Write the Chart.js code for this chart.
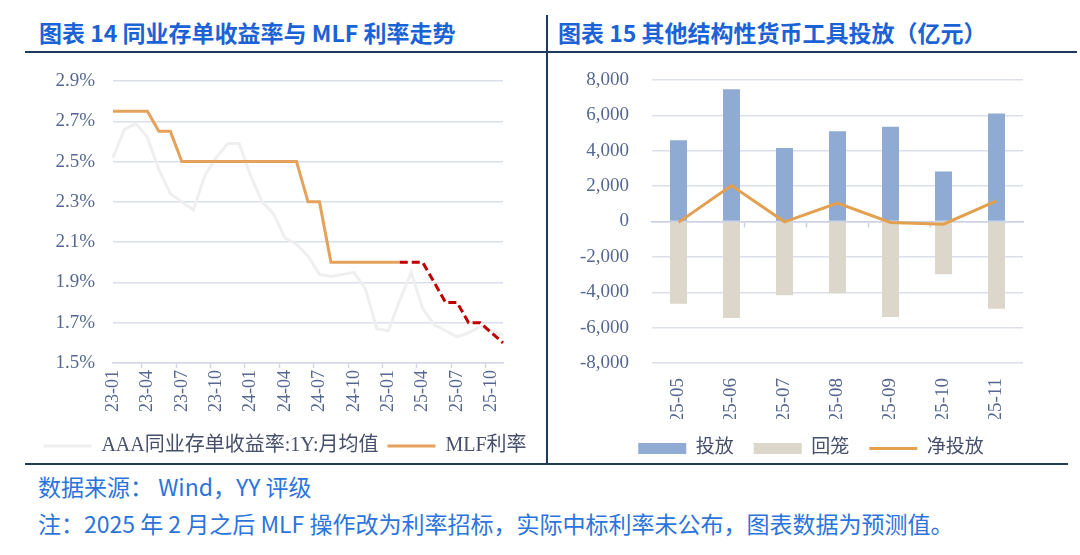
<!DOCTYPE html>
<html>
<head>
<meta charset="utf-8">
<script src="https://cdn.jsdelivr.net/npm/chart.js@4.4.0/dist/chart.umd.min.js"></script>
<style>
  body { margin: 0; width: 1080px; height: 555px; background: #fff; position: relative; overflow: hidden; }
  .title { position: absolute; top: 16px; font: bold 23px "Noto Sans CJK SC", sans-serif; line-height: 1.4; color: #1a62d6; white-space: nowrap; }
  .note { position: absolute; left: 38px; font: 23px "Noto Sans CJK SC", sans-serif; line-height: 1.4; color: #2c74dc; white-space: nowrap; }
  .rule { position: absolute; background: #1f3b5c; }
  canvas { position: absolute; }
</style>
</head>
<body>

<div class="title" style="left:39px">图表 14 同业存单收益率与 MLF 利率走势</div>
<div class="title" style="left:558px">图表 15 其他结构性货币工具投放（亿元）</div>
<div class="rule" style="left:25px; top:51px; width:1052px; height:2px"></div>
<div class="rule" style="left:546px; top:15px; width:1.5px; height:450px"></div>
<div class="rule" style="left:25px; top:463px; width:1043px; height:1.5px"></div>

<canvas id="rateChart" width="520" height="404" style="left:25px; top:62px"></canvas>
<canvas id="toolChart" width="510" height="406" style="left:556px; top:62px"></canvas>

<div class="note" style="top:470px">数据来源： Wind，YY 评级</div>
<div class="note" style="top:507px">注：2025 年 2 月之后 MLF 操作改为利率招标，实际中标利率未公布，图表数据为预测值。</div>

<script type="text/JavaScript">

//------------------------------------------------------------------------------------------
// Data
//------------------------------------------------------------------------------------------

// chart 14: months 23-01 .. 25-11
var months = ["23-01","23-02","23-03","23-04","23-05","23-06","23-07","23-08","23-09","23-10","23-11","23-12",
              "24-01","24-02","24-03","24-04","24-05","24-06","24-07","24-08","24-09","24-10","24-11","24-12",
              "25-01","25-02","25-03","25-04","25-05","25-06","25-07","25-08","25-09","25-10","25-11"];

// AAA NCD 1Y monthly average (%)
var ncdYield = [2.52, 2.66, 2.69, 2.62, 2.46, 2.34, 2.30, 2.26, 2.43, 2.52, 2.59, 2.59,
                2.43, 2.30, 2.24, 2.12, 2.09, 2.03, 1.94, 1.93, 1.94, 1.95, 1.87, 1.67,
                1.66, 1.81, 1.95, 1.77, 1.69, 1.66, 1.63, 1.65, 1.68, 1.66, 1.64];

// MLF rate, published part (%)
var mlfRate = [2.75, 2.75, 2.75, 2.75, 2.65, 2.65, 2.50, 2.50, 2.50, 2.50, 2.50, 2.50,
               2.50, 2.50, 2.50, 2.50, 2.50, 2.30, 2.30, 2.00, 2.00, 2.00, 2.00, 2.00,
               2.00, 2.00, null, null, null, null, null, null, null, null, null];

// MLF rate, forecast part (%)
var mlfForecast = [null, null, null, null, null, null, null, null, null, null, null, null,
                   null, null, null, null, null, null, null, null, null, null, null, null,
                   null, 2.00, 2.00, 2.00, 1.90, 1.80, 1.80, 1.70, 1.70, 1.65, 1.60];

var rateTicks = [1.5, 1.7, 1.9, 2.1, 2.3, 2.5, 2.7, 2.9];

// chart 15: structural tools (100 million yuan)
var toolMonths = ["25-05","25-06","25-07","25-08","25-09","25-10","25-11"];
var injected   = [4600, 7480, 4150, 5100, 5350, 2830, 6100];
var withdrawn  = [-4650, -5450, -4170, -4060, -5400, -2980, -4930];
var netInject  = [-50, 2030, -20, 1040, -50, -150, 1170];

//------------------------------------------------------------------------------------------
// Styles
//------------------------------------------------------------------------------------------

var TICK_COLOR = "#56688f";
var LEGEND_COLOR = "#46506c";
var GRID_COLOR = "#dbdfec";
var SERIF = "'Liberation Serif', 'Noto Sans CJK SC', serif";

// empty box on the right side, keeps the plot narrow while the legend uses the full width
function spacerAxis(w) {
    return {
        position: 'right',
        display: true,
        afterFit: function(scale) { scale.width = w; },
        border: { display: false },
        grid: { display: false },
        ticks: { display: false }
    };
}

//------------------------------------------------------------------------------------------
// Chart 14
//------------------------------------------------------------------------------------------

var ctx1 = document.getElementById("rateChart").getContext('2d');
var rateChart = new Chart(ctx1, {
    type: 'line',
    data: {
        labels: months,
        datasets: [
            {
                label: "AAA同业存单收益率:1Y:月均值",
                data: ncdYield,
                borderColor: "#efefef",
                backgroundColor: "#efefef",
                borderWidth: 3,
                pointRadius: 0,
                pointBorderWidth: 3,
                pointStyle: 'line',
                order: 2
            },
            {
                label: "MLF利率",
                data: mlfRate,
                borderColor: "#e4a25c",
                backgroundColor: "#e4a25c",
                borderWidth: 3,
                pointRadius: 0,
                pointBorderWidth: 3,
                pointStyle: 'line',
                order: 1
            },
            {
                label: "forecast",
                data: mlfForecast,
                borderColor: "#c00000",
                borderWidth: 3,
                borderDash: [8, 4],
                pointRadius: 0,
                order: 0
            }
        ]
    },
    options: {
        responsive: false,
        animation: false,
        layout: { padding: { top: 19, right: 0, left: 0, bottom: 0 } },
        plugins: {
            tooltip: { enabled: false },
            legend: {
                position: 'bottom',
                labels: {
                    filter: function(item) { return item.datasetIndex < 2; },
                    sort: function(a, b) { return a.datasetIndex - b.datasetIndex; },
                    usePointStyle: true,
                    pointStyleWidth: 48,
                    boxHeight: 11,
                    padding: 9,
                    color: LEGEND_COLOR,
                    font: { family: SERIF, size: 20 }
                }
            }
        },
        scales: {
            x: {
                afterFit: function(scale) { scale.height = 64; },
                border: { color: "#d3d8e7", width: 1.5 },
                grid: {
                    offset: true,
                    drawOnChartArea: false,
                    tickLength: 5,
                    tickWidth: 1.5,
                    tickColor: function(c) { return c.index % 3 === 0 ? "#d3d8e7" : "rgba(0,0,0,0)"; }
                },
                ticks: {
                    autoSkip: false,
                    maxRotation: 90,
                    minRotation: 90,
                    padding: 2,
                    color: TICK_COLOR,
                    font: { family: SERIF, size: 18 },
                    callback: function(v, i) { return i % 3 === 0 ? months[i] : ''; }
                }
            },
            y: {
                min: rateTicks[0],
                max: rateTicks[rateTicks.length - 1],
                afterFit: function(scale) { scale.width = 88; },
                afterBuildTicks: function(scale) {
                    scale.ticks = rateTicks.map(function(v) { return { value: v }; });
                },
                border: { display: false },
                grid: { color: GRID_COLOR, lineWidth: 1.5, drawTicks: true, tickLength: 18, tickColor: "rgba(0,0,0,0)" },
                ticks: {
                    padding: 0,
                    color: TICK_COLOR,
                    font: { family: SERIF, size: 19 },
                    callback: function(v) { return v.toFixed(1) + '%'; }
                }
            },
            spacer: spacerAxis(42)
        }
    }
}); //Chart()

//------------------------------------------------------------------------------------------
// Chart 15
//------------------------------------------------------------------------------------------

var ctx2 = document.getElementById("toolChart").getContext('2d');
var toolChart = new Chart(ctx2, {
    data: {
        labels: toolMonths,
        datasets: [
            {
                type: 'line',
                label: "净投放",
                data: netInject,
                borderColor: "#e3a04e",
                backgroundColor: "#e3a04e",
                borderWidth: 3,
                pointRadius: 0,
                pointBorderWidth: 3,
                pointStyle: 'line',
                order: 0
            },
            {
                type: 'bar',
                label: "投放",
                data: injected,
                backgroundColor: "#8faad3",
                pointStyle: 'rect',
                categoryPercentage: 1,
                barPercentage: 0.32,
                order: 1
            },
            {
                type: 'bar',
                label: "回笼",
                data: withdrawn,
                backgroundColor: "#ddd6cb",
                pointStyle: 'rect',
                categoryPercentage: 1,
                barPercentage: 0.32,
                order: 2
            }
        ]
    },
    options: {
        responsive: false,
        animation: false,
        layout: { padding: { top: 18, right: 0, left: 0, bottom: 0 } },
        plugins: {
            tooltip: { enabled: false },
            legend: {
                position: 'bottom',
                labels: {
                    sort: function(a, b) { return b.datasetIndex === 0 ? -1 : (a.datasetIndex === 0 ? 1 : a.datasetIndex - b.datasetIndex); },
                    usePointStyle: true,
                    pointStyleWidth: 48,
                    boxHeight: 11,
                    padding: 20,
                    color: LEGEND_COLOR,
                    font: { family: SERIF, size: 19 }
                }
            }
        },
        scales: {
            x: {
                stacked: true,
                afterFit: function(scale) { scale.height = 56; },
                border: { display: false },
                grid: { display: false },
                ticks: {
                    autoSkip: false,
                    maxRotation: 90,
                    minRotation: 90,
                    padding: 7,
                    color: TICK_COLOR,
                    font: { family: SERIF, size: 19 }
                }
            },
            x2: {
                type: 'category',
                position: { y: 0 },
                border: { color: "#c9d1e4", width: 1.5 },
                grid: { offset: true, drawOnChartArea: false, tickLength: 5, tickWidth: 1.5, color: "#c9d1e4" },
                ticks: { display: false }
            },
            y: {
                min: -8000,
                max: 8000,
                afterFit: function(scale) { scale.width = 96; },
                border: { display: false },
                grid: { color: GRID_COLOR, lineWidth: 1.5, drawTicks: true, tickLength: 23, tickColor: "rgba(0,0,0,0)" },
                ticks: {
                    stepSize: 2000,
                    padding: 0,
                    color: TICK_COLOR,
                    font: { family: SERIF, size: 19 },
                    callback: function(v) { return v.toLocaleString('en-US'); }
                }
            },
            spacer: spacerAxis(43)
        }
    }
}); //Chart()

</script>
</body>
</html>
